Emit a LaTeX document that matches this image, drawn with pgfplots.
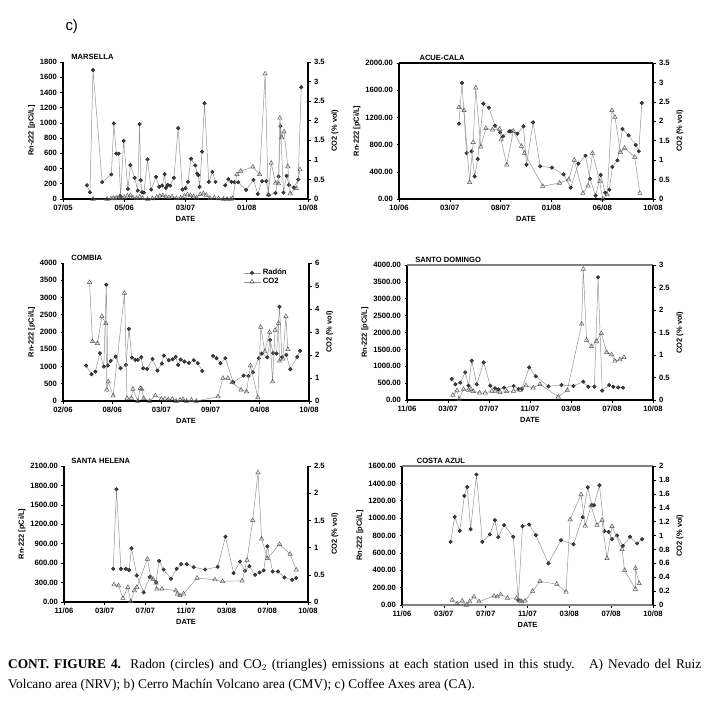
\documentclass[border=0pt]{standalone}
\usepackage{fontspec}
\setmainfont{Liberation Sans}
\newfontfamily\serif{Liberation Serif}
\usepackage{pgfplots}
\pgfplotsset{compat=1.18}
\newcommand\fs{\fontsize{7.7}{8.5}\selectfont\bfseries}
\newcommand\fl{\fontsize{7.5}{8.5}\selectfont\bfseries}
\newcommand\ft{\fontsize{7.6}{8.5}\selectfont\bfseries}
\pgfplotsset{
 base/.style={scale only axis, clip=false, axis line style={black,line width=1.1bp,-},
   tick align=outside, major tick length=2.5bp, tick style={black,line width=0.6bp},
   /pgf/number format/assume math mode=true, /pgf/number format/1000 sep={},
   tick label style={font=\fs}, label style={font=\fl}, unbounded coords=jump, anchor=south west},
 lft/.style={base, axis x line*=bottom, axis y line*=left, xlabel={DATE}, ylabel={Rn-222 [pCi/L]}, ymin=0, ylabel shift=-2bp, xlabel shift=-1bp},
 rgt/.style={base, axis y line*=right, axis x line=none, ylabel={CO2 (\% vol)}, ymin=0},
 rgtbox/.style={base, axis y line*=right, axis x line*=top, xtick=\empty, ylabel={CO2 (\% vol)}, ymin=0},
 dec/.style={yticklabel style={/pgf/number format/.cd,fixed,fixed zerofill,precision=2}},
 rn/.style={color=black!42, line width=0.5bp, mark=*, mark size=1.75bp, mark options={fill=black!75, draw=black!85, solid}},
 co/.style={color=black!42, line width=0.5bp, mark=triangle, mark size=2.5bp, mark options={fill=white, draw=black!65, solid}},
}
\begin{document}
\begin{tikzpicture}
\path[use as bounding box] (0bp,0bp) rectangle (709bp,-706bp);
\node[anchor=west, font=\fontsize{15}{16}\selectfont] at (62bp,-27bp) {c)};

% ---------- Panel 1: MARSELLA
\begin{axis}[lft, at={(63bp,-199bp)}, width=245bp, height=137bp,
  xmin=0, xmax=4, xtick={0,1,2,3,4}, xticklabels={07/05,05/06,03/07,01/08,10/08},
  ymax=1800, ytick={0,200,...,1800}]
\addplot[rn] coordinates {(0.39,181)(0.44,88)(0.49,1694)(0.64,221)(0.79,322)(0.83,993)(0.87,596)(0.91,596)(0.94,35)(0.99,763)(1.06,132)(1.10,446)(1.17,278)(1.22,110)(1.25,984)(1.27,247)(1.29,88)(1.32,84)(1.38,521)(1.44,124)(1.52,291)(1.57,159)(1.62,176)(1.66,326)(1.68,146)(1.71,185)(1.75,176)(1.81,278)(1.88,931)(1.95,124)(2.00,141)(2.04,225)(2.09,529)(2.16,441)(2.19,335)(2.21,313)(2.23,159)(2.27,622)(2.31,1257)(2.38,225)(2.44,357)(2.49,225)(2.57,nan)(2.65,181)(2.70,260)(2.75,225)(2.80,221)(2.86,221)(2.99,119)(3.11,251)(3.18,66)(3.25,234)(3.32,234)(3.36,53)(3.47,79)(3.52,296)(3.55,957)(3.60,84)(3.65,304)(3.69,185)(3.77,150)(3.84,256)(3.89,1469)};
\node[anchor=base west, font=\ft, yshift=3bp] at (rel axis cs:0.02,1) {MARSELLA};
\end{axis}
\begin{axis}[rgt, at={(63bp,-199bp)}, width=245bp, height=137bp,
  xmin=0, xmax=4, ymax=3.5, ytick={0,0.5,...,3.5}]
\addplot[co] coordinates {(0.49,0.0)(0.72,0.0)(0.78,0.01)(0.82,0.02)(0.85,0.01)(0.88,0.03)(0.92,0.06)(0.95,0.02)(1.00,0.04)(1.05,0.08)(1.10,0.09)(1.14,0.04)(1.20,0.02)(1.25,0.05)(1.30,0.02)(1.38,0.0)(1.46,0.01)(1.53,0.05)(1.58,0.08)(1.63,0.09)(1.68,0.06)(1.73,0.04)(1.78,0.06)(1.85,0.02)(1.92,0.03)(1.98,0.08)(2.03,0.11)(2.08,0.09)(2.13,0.06)(2.18,0.03)(2.24,0.12)(2.29,0.14)(2.34,0.10)(2.40,0.02)(2.47,0.03)(2.54,0.01)(2.62,0.0)(2.68,0.0)(2.74,0.0)(2.77,0.02)(2.84,0.63)(2.90,0.71)(3.10,0.82)(3.21,0.63)(3.30,3.20)(3.35,0.11)(3.40,0.92)(3.47,0.41)(3.52,0.39)(3.54,2.07)(3.57,1.57)(3.61,1.72)(3.67,0.83)(3.71,0.14)(3.81,0.27)(3.87,0.75)};
\end{axis}

% ---------- Panel 2: ACUE-CALA
\begin{axis}[lft, dec, at={(399bp,-199bp)}, width=254bp, height=136bp,
  xmin=0, xmax=5, xtick={0,...,5}, xticklabels={10/06,03/07,08/07,01/08,06/08,10/08},
  ymax=2000, ytick={0,400,...,2000}]
\addplot[rn] coordinates {(1.18,1108)(1.24,1706)(1.33,676)(1.43,701)(1.49,333)(1.55,588)(1.66,1402)(1.77,1343)(1.89,1078)(1.99,980)(2.05,922)(2.17,995)(2.20,995)(2.33,961)(2.45,1069)(2.51,505)(2.64,1127)(2.78,480)(3.01,461)(3.24,363)(3.38,167)(3.53,520)(3.67,637)(3.76,299)(3.87,49)(3.97,353)(4.06,93)(4.14,137)(4.20,471)(4.30,569)(4.40,1029)(4.52,936)(4.66,794)(4.72,701)(4.78,1412)};
\node[anchor=base west, font=\ft, yshift=3bp] at (rel axis cs:0.067,1) {ACUE-CALA};
\end{axis}
\begin{axis}[rgtbox, at={(399bp,-199bp)}, width=254bp, height=136bp,
  xmin=0, xmax=5, ymax=3.5, ytick={0,0.5,...,3.5}]
\addplot[co] coordinates {(1.18,2.36)(1.28,2.28)(1.39,0.43)(1.46,1.46)(1.51,2.86)(1.61,1.34)(1.71,1.82)(1.84,1.78)(1.98,1.80)(2.01,1.53)(2.12,0.88)(2.25,1.75)(2.41,1.36)(2.47,1.18)(2.83,0.33)(3.16,0.41)(3.34,0.50)(3.45,1.00)(3.62,0.15)(3.72,0.34)(3.81,1.18)(3.95,0.46)(4.01,0.0)(4.10,0.11)(4.19,2.28)(4.25,2.11)(4.36,1.20)(4.44,1.31)(4.64,1.08)(4.74,0.15)};
\end{axis}

% ---------- Panel 3: COMBIA
\begin{axis}[lft, at={(63bp,-401bp)}, width=246bp, height=138bp,
  xmin=0, xmax=5, xtick={0,...,5}, xticklabels={02/06,08/06,03/07,09/07,04/08,10/08},
  ymax=4000, ytick={0,500,...,4000},
  legend style={at={(0.72,0.985)}, anchor=north west, draw=none, fill=none, font=\fs, row sep=-2bp},
  legend cell align=left]
\addplot[rn] coordinates {(0.47,1027)(0.58,775)(0.66,852)(0.75,1385)(0.83,998)(0.88,3370)(0.91,1027)(0.97,1162)(1.07,1288)(1.17,949)(1.28,1046)(1.34,2092)(1.40,1259)(1.47,1191)(1.52,1191)(1.59,1269)(1.63,949)(1.71,930)(1.82,1220)(1.92,881)(2.01,1085)(2.05,1317)(2.15,1182)(2.23,1211)(2.29,1278)(2.34,1046)(2.39,1201)(2.47,1143)(2.56,1104)(2.66,1182)(2.74,1094)(2.83,872)(2.94,nan)(3.05,1307)(3.12,1240)(3.20,1094)(3.30,1240)(3.46,542)(3.67,736)(3.77,726)(3.86,833)(3.98,1240)(4.04,1375)(4.15,1269)(4.21,1772)(4.27,1385)(4.34,1375)(4.40,2731)(4.45,1269)(4.54,1337)(4.62,920)(4.76,1278)(4.82,1453)};
\addlegendentry{Rad\'on}
\addlegendimage{co}
\addlegendentry{CO2}
\node[anchor=base west, font=\ft, yshift=3bp] at (rel axis cs:0.02,1) {COMBIA};
\end{axis}
\begin{axis}[rgt, at={(63bp,-401bp)}, width=246bp, height=138bp,
  xmin=0, xmax=5, ymax=6, ytick={0,...,6}]
\addplot[co] coordinates {(0.54,5.16)(0.60,2.59)(0.70,2.51)(0.79,3.68)(0.87,3.37)(0.89,0.48)(0.92,0.84)(1.02,0.23)(1.25,4.69)(1.30,0.12)(1.39,0.12)(1.42,0.52)(1.52,0.0)(1.57,0.55)(1.60,0.52)(1.64,0.12)(1.76,0.0)(1.88,0.23)(2.00,0.09)(2.07,0.09)(2.14,0.06)(2.22,0.09)(2.30,0.0)(2.38,0.04)(2.44,0.07)(2.51,0.0)(2.61,0.04)(2.71,0.0)(3.15,0.19)(3.25,0.99)(3.35,0.99)(3.44,0.81)(3.62,0.48)(3.73,0.41)(3.81,1.54)(3.96,0.15)(4.02,3.21)(4.10,2.15)(4.20,2.99)(4.26,0.84)(4.31,3.08)(4.38,3.39)(4.40,1.74)(4.47,1.83)(4.53,3.68)(4.57,2.24)};
\end{axis}

% ---------- Panel 4: SANTO DOMINGO
\begin{axis}[lft, dec, at={(407bp,-400bp)}, width=246bp, height=135bp,
  xmin=0, xmax=6, xtick={0,...,6}, xticklabels={11/06,03/07,07/07,11/07,03/08,07/08,10/08},
  ymax=4000, ytick={0,500,...,4000}]
\addplot[rn] coordinates {(1.09,622)(1.18,464)(1.30,514)(1.42,820)(1.50,425)(1.58,1165)(1.70,464)(1.87,1116)(2.03,425)(2.15,346)(2.23,316)(2.37,365)(2.60,415)(2.72,326)(2.80,326)(2.98,968)(3.14,701)(3.45,405)(3.77,444)(4.06,415)(4.30,543)(4.42,395)(4.57,395)(4.66,3635)(4.76,277)(4.93,444)(5.03,395)(5.15,375)(5.27,365)};
\node[anchor=base west, font=\ft, yshift=3bp] at (rel axis cs:0.02,1) {SANTO DOMINGO};
\end{axis}
\begin{axis}[rgtbox, x axis line style={black!50}, at={(407bp,-400bp)}, width=246bp, height=135bp,
  xmin=0, xmax=6, ymax=3, ytick={0,0.5,...,3}]
\addplot[co] coordinates {(1.12,0.11)(1.22,0.21)(1.27,0.02)(1.38,0.24)(1.50,0.22)(1.56,0.24)(1.62,0.19)(1.77,0.16)(1.91,0.16)(2.07,0.20)(2.15,0.20)(2.27,0.17)(2.43,0.19)(2.60,0.20)(2.76,0.22)(2.90,0.32)(3.08,0.27)(3.24,0.35)(3.69,0.07)(3.91,0.22)(4.26,1.69)(4.30,2.91)(4.38,1.33)(4.50,1.19)(4.62,1.31)(4.74,1.48)(4.87,1.06)(4.99,1.01)(5.07,0.87)(5.19,0.90)(5.29,0.95)};
\end{axis}

% ---------- Panel 5: SANTA HELENA
\begin{axis}[lft, dec, at={(64bp,-602bp)}, width=244bp, height=136bp,
  xmin=0, xmax=6, xtick={0,...,6}, xticklabels={11/06,03/07,07/07,11/07,03/08,07/08,10/08},
  ymax=2100, ytick={0,300,...,2100}]
\addplot[rn] coordinates {(1.21,512)(1.29,1741)(1.40,512)(1.52,512)(1.60,492)(1.66,830)(1.79,410)(1.96,149)(2.11,389)(2.26,307)(2.34,635)(2.45,502)(2.63,359)(2.77,512)(2.88,584)(3.02,584)(3.19,538)(3.47,502)(3.78,543)(3.97,1009)(4.17,446)(4.33,625)(4.45,481)(4.56,553)(4.70,420)(4.81,456)(4.91,487)(5.00,860)(5.13,471)(5.26,471)(5.42,379)(5.61,343)(5.71,369)};
\node[anchor=base west, font=\ft, yshift=3bp] at (rel axis cs:0.016,1) {SANTA HELENA};
\end{axis}
\begin{axis}[rgt, at={(64bp,-602bp)}, width=244bp, height=136bp,
  xmin=0, xmax=6, ymax=2.5, ytick={0,0.5,...,2.5}]
\addplot[co] coordinates {(1.23,0.32)(1.34,0.30)(1.45,0.07)(1.57,0.27)(1.64,0.01)(1.73,0.21)(1.79,0.27)(2.05,0.79)(2.14,0.45)(2.19,0.42)(2.26,0.35)(2.28,0.24)(2.41,0.24)(2.75,0.21)(2.79,0.15)(2.85,0.12)(2.94,0.15)(3.27,0.44)(3.71,0.41)(3.90,0.38)(4.38,0.39)(4.50,0.77)(4.64,1.50)(4.77,2.38)(4.86,1.16)(5.00,0.80)(5.30,1.06)(5.56,0.88)(5.71,0.59)};
\end{axis}

% ---------- Panel 6: COSTA AZUL
\begin{axis}[lft, dec, x axis line style={black!50}, at={(402bp,-605bp)}, width=251bp, height=139bp,
  xmin=0, xmax=6, xtick={0,...,6}, xticklabels={11/06,03/07,07/07,11/07,03/08,07/08,10/08},
  ymax=1600, ytick={0,200,...,1600}]
\addplot[rn] coordinates {(1.16,727)(1.26,1014)(1.38,854)(1.49,1256)(1.56,1359)(1.64,873)(1.78,1501)(1.92,727)(2.10,812)(2.22,976)(2.30,781)(2.44,919)(2.66,785)(2.78,57)(2.88,907)(3.04,926)(3.20,804)(3.50,479)(3.80,746)(4.10,700)(4.32,1011)(4.44,1355)(4.54,1148)(4.59,1148)(4.72,1378)(4.84,850)(4.94,842)(5.02,758)(5.14,800)(5.28,681)(5.45,785)(5.62,708)(5.74,758)};
\node[anchor=base west, font=\ft, yshift=3bp] at (rel axis cs:0.045,1) {COSTA AZUL};
\end{axis}
\begin{axis}[rgtbox, x axis line style={black!50}, at={(402bp,-605bp)}, width=251bp, height=139bp,
  xmin=0, xmax=6, ymax=2, ytick={0,0.2,...,2}]
\addplot[co] coordinates {(1.20,0.07)(1.32,0.02)(1.44,0.06)(1.54,0.0)(1.62,0.05)(1.72,0.12)(1.84,0.05)(2.20,0.13)(2.28,0.12)(2.36,0.15)(2.52,0.10)(2.74,0.10)(2.82,0.06)(2.86,0.05)(2.94,0.06)(3.12,0.20)(3.30,0.34)(3.70,0.30)(3.92,0.19)(4.02,1.23)(4.28,1.59)(4.38,1.14)(4.52,1.43)(4.66,1.15)(4.78,1.22)(4.90,0.67)(5.02,1.13)(5.26,0.80)(5.32,0.50)(5.58,0.23)(5.58,0.53)(5.67,0.31)};
\end{axis}

% ---------- caption
\node[anchor=base west, inner sep=0pt, font=\serif\fontsize{13.4}{15}\selectfont] at (8bp,-668bp)
  {\makebox[693bp][s]{\textbf{CONT. FIGURE 4.} Radon (circles) and CO$_{2}$ (triangles) emissions at each station used in this study. \ A) Nevado del Ruiz}};
\node[anchor=base west, inner sep=0pt, font=\serif\fontsize{13.4}{15}\selectfont] at (8bp,-688bp)
  {Volcano area (NRV); b) Cerro Mach\'in Volcano area (CMV); c) Coffee Axes area (CA).};
\end{tikzpicture}
\end{document}
